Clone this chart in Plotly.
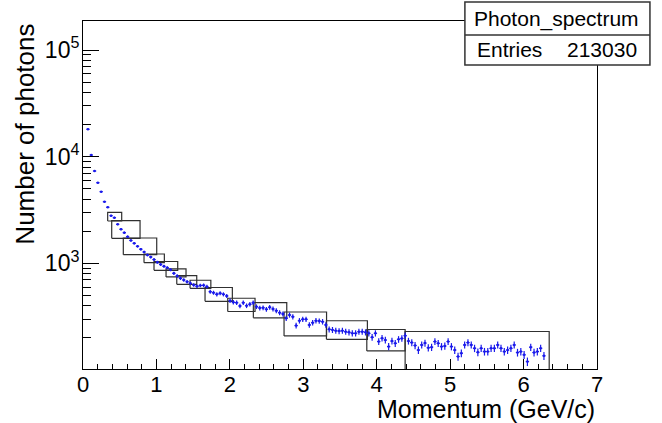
import numpy as np
import plotly.graph_objects as go

# ---------------- data ----------------
bin_width = 0.045           # GeV/c per histogram bin
first_bin = 1               # first visible bin index
photon_counts = [
    18100, 10370, 7345, 5705, 4700, 3785, 3357, 2800, 2680, 2323,
    2088, 1941, 1779, 1640, 1542, 1446, 1359, 1279, 1199, 1148,
    1086, 1026, 977, 939, 910, 873, 807, 762, 725, 699,
    673, 650, 628, 610, 621, 623, 605, 543, 531, 513,
    525, 513, 495, 447, 432, 428, 399, 428, 401, 414,
    428, 393, 382, 384, 371, 388, 374, 360, 345, 336,
    306, 328, 316, 261, 290, 299, 299, 265, 278, 290,
    288, 284, 265, 241, 238, 234, 232, 234, 229, 226,
    221, 221, 229, 229, 226, 221, 203, 221, 185, 199,
    191, 166, 187, 178, 194, 198, 210, 187, 181, 170,
    154, 172, 179, 162, 164, 185, 178, 166, 168, 185,
    166, 154, 134, 144, 172, 181, 172, 160, 147, 160,
    149, 149, 160, 160, 172, 160, 149, 154, 160, 172,
    146, 149, 139, 120, 164, 146, 149, 160, 136,
]

# systematic boxes (momentum range, count range)
box_x_lo = [0.336, 0.391, 0.549, 0.831, 0.967, 1.131, 1.277, 1.458, 1.662, 1.971, 2.320, 2.738, 3.315, 3.865, 4.387]
box_x_hi = [0.527, 0.777, 1.004, 1.108, 1.290, 1.403, 1.549, 1.741, 2.034, 2.343, 2.775, 3.317, 3.873, 4.387, 6.349]
box_y_lo = [2497, 1718, 1207, 1016, 861, 746, 637, 584, 441, 354, 309, 209, 194, 151, 90]
box_y_hi = [3013, 2512, 1730, 1225, 1042, 890, 767, 695, 594, 471, 428, 350, 290, 240, 230]

x_ticks = [0, 1, 2, 3, 4, 5, 6, 7]
y_ticks = [1e3, 1e4, 1e5]
y_tick_text = ["10<sup>3</sup>", "10<sup>4</sup>", "10<sup>5</sup>"]

hist_name = "Photon_spectrum"
entries = 213030

# ---------------- figure ----------------
counts = np.array(photon_counts, dtype=float)
idx = np.arange(first_bin, first_bin + len(counts))
centers = (idx + 0.5) * bin_width
errs = np.sqrt(counts)

blue = "rgb(25,25,235)"
font_family = "Liberation Sans, Arial, Helvetica, sans-serif"

fig = go.Figure()

# boxes
bx, by = [], []
for x0, x1, y0, y1 in zip(box_x_lo, box_x_hi, box_y_lo, box_y_hi):
    bx += [x0, x1, x1, x0, x0, None]
    by += [y0, y0, y1, y1, y0, None]
fig.add_trace(go.Scatter(x=bx, y=by, mode="lines",
                         line=dict(color="#303030", width=1.2),
                         hoverinfo="skip", showlegend=False))

fig.add_trace(go.Scatter(
    x=centers, y=counts, mode="markers",
    marker=dict(color=blue, size=2.5),
    error_y=dict(type="data", array=errs, color=blue, thickness=1.2, width=0),
    error_x=dict(type="constant", value=bin_width / 2, color=blue, thickness=1.2, width=0),
    showlegend=False,
))

minor_y = [m * 10 ** e for e in (2, 3, 4) for m in range(2, 10)]

fig.update_layout(
    width=662, height=423,
    margin=dict(l=83, r=65, t=21, b=54),
    paper_bgcolor="white", plot_bgcolor="white",
    font=dict(family=font_family, color="black"),
    xaxis=dict(
        range=[0, 7], tickvals=x_ticks, ticks="inside", ticklen=10,
        tickwidth=1, tickcolor="black", ticklabelstandoff=-4,
        minor=dict(dtick=0.2, ticks="inside", ticklen=5, tickcolor="black", tickwidth=1, showgrid=False),
        showgrid=False, zeroline=False, showline=True, linecolor="black",
        linewidth=1, mirror=True, tickfont=dict(size=22), automargin=False,
    ),
    yaxis=dict(
        type="log", range=[2.01, 5.272], tickvals=y_ticks, ticktext=y_tick_text,
        ticks="inside", ticklen=16, tickwidth=1, tickcolor="black", ticklabelstandoff=-2,
        minor=dict(tickmode="array", tickvals=minor_y, ticks="inside", ticklen=8,
                   tickcolor="black", tickwidth=1, showgrid=False),
        showgrid=False, zeroline=False, showline=True, linecolor="black",
        linewidth=1, mirror=True, tickfont=dict(size=23), automargin=False,
    ),
    shapes=[
        dict(type="rect", xref="paper", yref="paper", x0=0.743, x1=1.103,
             y0=0.8736, y1=1.0546, fillcolor="white",
             line=dict(color="#333333", width=1.5), layer="above"),
        dict(type="line", xref="paper", yref="paper", x0=0.743, x1=1.103,
             y0=0.9598, y1=0.9598, line=dict(color="#333333", width=1.5), layer="above"),
    ],
    annotations=[
        dict(text="Momentum (GeV/c)", xref="paper", yref="paper", x=1.0, y=-0.115,
             xanchor="right", yanchor="middle", showarrow=False, font=dict(size=25)),
        dict(text="Number of photons", xref="paper", yref="paper", x=-0.112, y=0.998,
             xanchor="center", yanchor="top", textangle=-90, showarrow=False,
             font=dict(size=26)),
        dict(text=hist_name, xref="paper", yref="paper", x=0.922, y=1.007,
             xanchor="center", yanchor="middle", showarrow=False, font=dict(size=21)),
        dict(text="Entries", xref="paper", yref="paper", x=0.763, y=0.9167,
             xanchor="left", yanchor="middle", showarrow=False, font=dict(size=21)),
        dict(text=str(entries), xref="paper", yref="paper", x=1.082, y=0.9167,
             xanchor="right", yanchor="middle", showarrow=False, font=dict(size=21)),
    ],
)

fig.write_html(
    "out.html",
    config={"displayModeBar": False},
    post_script="document.body.style.margin='0';document.body.style.overflow='hidden';",
)
